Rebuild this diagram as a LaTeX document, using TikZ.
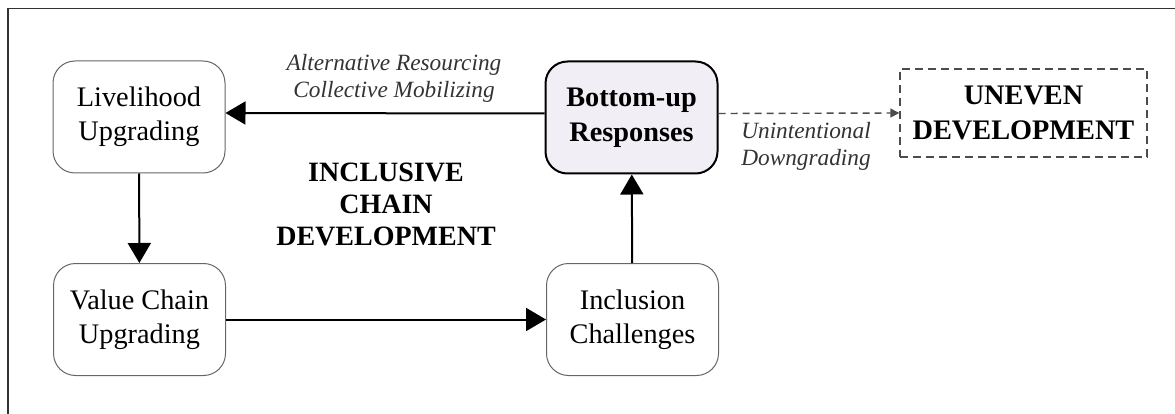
\documentclass[tikz,border=0pt]{standalone}
\usepackage{fontspec}
\setmainfont{Liberation Serif}
\usetikzlibrary{arrows.meta}
\definecolor{buFill}{RGB}{241,239,245}
\begin{document}
\begin{tikzpicture}[x=1pt,y=-1pt,
  stage/.style={draw=black!60, line width=1pt, rounded corners=22pt,
    minimum width=172pt, minimum height=112pt, align=center, inner sep=0pt,
    font=\fontsize{28.3}{34}\selectfont},
  keystage/.style={stage, draw=black, line width=2pt, fill=buFill,
    font=\fontsize{28.3}{35}\selectfont\bfseries},
  outcome/.style={draw=black!70, dash pattern=on 8pt off 5pt, line width=1.4pt,
    minimum width=247pt, minimum height=88pt, align=center, inner sep=0pt,
    font=\fontsize{28.3}{35}\selectfont\bfseries},
  flow/.style={line width=2pt, -{Triangle[length=20pt,width=23pt]}},
  drift/.style={draw=black!70, dash pattern=on 7pt off 5pt, line width=1.4pt,
    -{Triangle[length=9pt,width=9pt]}},
  side/.style={align=center, text=black!80, inner sep=0pt,
    font=\fontsize{23.3}{27}\selectfont\itshape},
]
\useasboundingbox (0,0) rectangle (1175,414);

% outer frame
\draw[line width=1.3pt, draw=black!80] (8,414) -- (8,8.5) -- (1175,8.5);

% stages
\node[stage] (live) at (139,117) {Livelihood\\Upgrading};
\node[keystage] (bu) at (631.5,117.5) {Bottom-up\\Responses};
\node[stage] (vc) at (139.5,319.5) {Value Chain\\Upgrading};
\node[stage] (inc) at (632.5,319.5) {Inclusion\\Challenges};
\node[outcome] (uneven) at (1023.5,113) {UNEVEN\\DEVELOPMENT};

% central title
\node[align=center, inner sep=0pt, font=\fontsize{28}{32}\selectfont\bfseries]
  (title) at (386,204) {INCLUSIVE\\CHAIN\\DEVELOPMENT};

% connectors
\draw[flow] ([yshift=4pt]bu.west) -- ([yshift=4pt]live.east);
\draw[flow] (live) -- (vc);
\draw[flow] (vc) -- (inc);
\draw[flow] (inc) -- (bu);
\draw[drift] ([yshift=4pt]bu.east) -- (uneven.west);

% connector labels
\node[side] (altlab) at (394,78) {Alternative Resourcing\\Collective Mobilizing};
\node[side] (unlab) at (806,146) {Unintentional\\Downgrading};
\end{tikzpicture}
\end{document}
